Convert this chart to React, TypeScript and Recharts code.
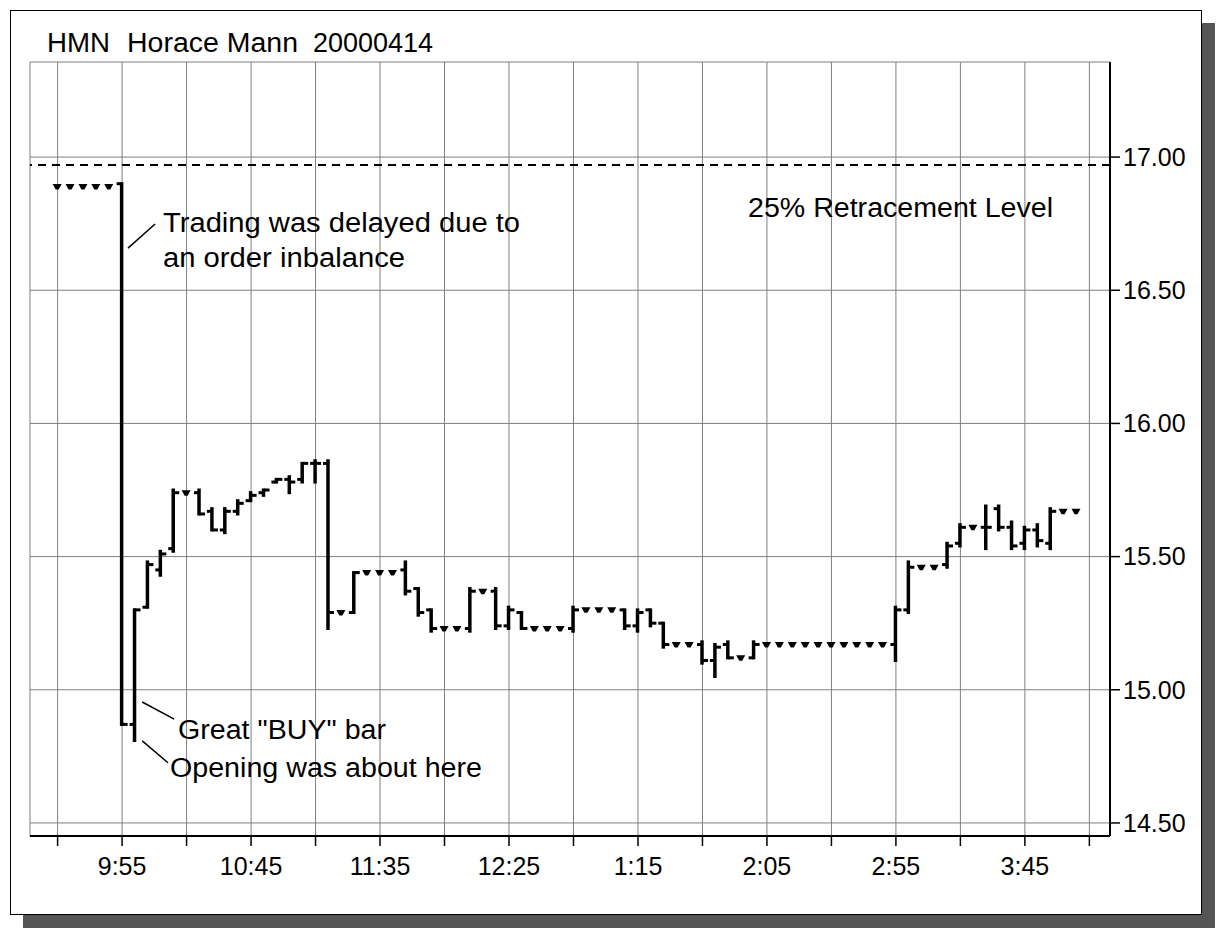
import React from 'react';
import { ComposedChart, Bar, XAxis, YAxis, CartesianGrid, ReferenceLine } from 'recharts';

const barTimes = [
  '9:30','9:35','9:40','9:45','9:50','9:55','10:00','10:05','10:10','10:15',
  '10:20','10:25','10:30','10:35','10:40','10:45','10:50','10:55','11:00','11:05',
  '11:10','11:15','11:20','11:25','11:30','11:35','11:40','11:45','11:50','11:55',
  '12:00','12:05','12:10','12:15','12:20','12:25','12:30','12:35','12:40','12:45',
  '12:50','12:55','1:00','1:05','1:10','1:15','1:20','1:25','1:30','1:35',
  '1:40','1:45','1:50','1:55','2:00','2:05','2:10','2:15','2:20','2:25',
  '2:30','2:35','2:40','2:45','2:50','2:55','3:00','3:05','3:10','3:15',
  '3:20','3:25','3:30','3:35','3:40','3:45','3:50','3:55','4:00','4:05',
];

const opens = [
  16.89,16.89,16.89,16.89,16.89,16.90,14.87,15.31,15.45,15.53,
  15.74,15.74,15.67,15.60,15.67,15.71,15.74,15.78,15.79,15.79,
  15.85,15.85,15.29,15.29,15.44,15.44,15.44,15.45,15.38,15.30,
  15.23,15.23,15.23,15.37,15.37,15.24,15.29,15.23,15.23,15.23,
  15.23,15.30,15.30,15.30,15.30,15.24,15.30,15.25,15.17,15.17,
  15.17,15.11,15.17,15.12,15.12,15.17,15.17,15.17,15.17,15.17,
  15.17,15.17,15.17,15.17,15.17,15.17,15.30,15.46,15.46,15.47,
  15.55,15.61,15.61,15.68,15.61,15.55,15.60,15.55,15.67,15.67,
];
const highs = [
  16.89,16.89,16.89,16.89,16.89,16.90,15.30,15.48,15.52,15.75,
  15.74,15.75,15.68,15.68,15.71,15.74,15.75,15.79,15.80,15.85,
  15.86,15.86,15.29,15.44,15.44,15.44,15.44,15.48,15.38,15.30,
  15.23,15.23,15.38,15.37,15.38,15.31,15.29,15.23,15.23,15.23,
  15.31,15.30,15.30,15.30,15.30,15.30,15.30,15.25,15.17,15.17,
  15.18,15.17,15.18,15.12,15.18,15.17,15.17,15.17,15.17,15.17,
  15.17,15.17,15.17,15.17,15.17,15.31,15.48,15.46,15.46,15.55,
  15.62,15.61,15.69,15.69,15.63,15.61,15.62,15.68,15.67,15.67,
];
const lows = [
  16.89,16.89,16.89,16.89,16.89,14.87,14.81,15.31,15.43,15.52,
  15.74,15.66,15.60,15.59,15.66,15.71,15.73,15.78,15.74,15.78,
  15.78,15.23,15.29,15.29,15.44,15.44,15.44,15.36,15.28,15.22,
  15.23,15.23,15.22,15.37,15.23,15.23,15.23,15.23,15.23,15.23,
  15.22,15.30,15.30,15.30,15.23,15.22,15.24,15.16,15.17,15.17,
  15.10,15.05,15.12,15.12,15.12,15.17,15.17,15.17,15.17,15.17,
  15.17,15.17,15.17,15.17,15.17,15.11,15.29,15.46,15.46,15.46,
  15.54,15.61,15.53,15.60,15.53,15.53,15.54,15.53,15.67,15.67,
];
const closes = [
  16.89,16.89,16.89,16.89,16.89,14.87,15.30,15.47,15.51,15.74,
  15.74,15.66,15.60,15.67,15.70,15.73,15.75,15.79,15.78,15.85,
  15.85,15.29,15.29,15.44,15.44,15.44,15.44,15.37,15.29,15.23,
  15.23,15.23,15.37,15.37,15.24,15.30,15.23,15.23,15.23,15.23,
  15.30,15.30,15.30,15.30,15.24,15.29,15.25,15.17,15.17,15.17,
  15.11,15.16,15.12,15.12,15.17,15.17,15.17,15.17,15.17,15.17,
  15.17,15.17,15.17,15.17,15.17,15.30,15.46,15.46,15.46,15.54,
  15.61,15.61,15.61,15.61,15.54,15.60,15.56,15.67,15.67,15.67,
];

const xTickTimes = ['9:30','9:55','10:20','10:45','11:10','11:35','12:00','12:25','12:50','1:15','1:40','2:05','2:30','2:55','3:20','3:45','4:10'];
const xLabelled = ['9:55','10:45','11:35','12:25','1:15','2:05','2:55','3:45'];
const yTicks = [14.5, 15.0, 15.5, 16.0, 16.5, 17.0];
const retracementLevel = 16.97;

const leaderLines = [
  [{ x: 27.3, y: 16.658 }, { x: 37.8, y: 16.749 }],
  [{ x: 32.8, y: 14.954 }, { x: 45.2, y: 14.89 }],
  [{ x: 32.8, y: 14.808 }, { x: 42.8, y: 14.726 }],
];

const toMinutes = (s: string) => {
  const [hs, ms] = s.split(':');
  let h = parseInt(hs, 10);
  const m = parseInt(ms, 10);
  if (h < 9) h += 12;
  return h * 60 + m - (9 * 60 + 30);
};

const data = barTimes.map((tm, i) => ({
  t: toMinutes(tm),
  open: opens[i],
  high: highs[i],
  low: lows[i],
  close: closes[i],
}));

const xTicks = xTickTimes.map(toMinutes);
const labelSet = new Set(xLabelled.map(toMinutes));

const FONT = '"Liberation Sans", Arial, sans-serif';

const OhlcShape = (props: any) => {
  const { x, y, width, height, payload } = props;
  if (x == null || y == null || !payload) return null;
  const cx = x + (width || 0) / 2;
  const h = height || 0;
  const top = Math.min(y, y + h);
  const bottom = Math.max(y, y + h);
  const span = payload.high - payload.low;
  const toPx = (v: number) => (span > 0 ? top + ((payload.high - v) / span) * (bottom - top) : top);
  if (bottom - top < 2) {
    return (
      <path
        d={`M${cx - 4.5},${top - 2.5} L${cx + 4.5},${top - 2.5} L${cx + 1.5},${top + 3} L${cx - 1.5},${top + 3} Z`}
        fill="#000"
      />
    );
  }
  const yo = toPx(payload.open);
  const yc = toPx(payload.close);
  return (
    <g>
      <line x1={cx} x2={cx} y1={top - 1.5} y2={bottom + 1.5} stroke="#000" strokeWidth={3.5} />
      <line x1={cx - 5} x2={cx} y1={yo} y2={yo} stroke="#000" strokeWidth={3} />
      <line x1={cx} x2={cx + 6} y1={yc} y2={yc} stroke="#000" strokeWidth={3} />
    </g>
  );
};

const texts = [
  { s: 'HMN', x: 47, y: 52, w: 63 },
  { s: 'Horace Mann', x: 127, y: 52, w: 171 },
  { s: '20000414', x: 313, y: 52, w: 120 },
  { s: 'Trading was delayed due to', x: 163, y: 232, w: 357 },
  { s: 'an order inbalance', x: 163, y: 267, w: 242 },
  { s: '25% Retracement Level', x: 748, y: 217, w: 305 },
  { s: 'Great "BUY" bar', x: 178, y: 739, w: 208 },
  { s: 'Opening was about here', x: 170, y: 777, w: 312 },
];

export default function App() {
  return (
    <div style={{ position: 'absolute', left: 0, top: 0, width: 1217, height: 929, background: '#fff', overflow: 'hidden' }}>
      <div
        style={{
          position: 'absolute',
          left: 10,
          top: 10,
          width: 1190,
          height: 903,
          border: '1px solid #000',
          background: '#fff',
          boxShadow: '13px 13px 0 #555',
        }}
      />
      <div style={{ position: 'absolute', left: 0, top: 0 }}>
        <ComposedChart
          width={1217}
          height={929}
          data={data}
          margin={{ top: 62, left: 30, right: 17, bottom: 33 }}
          style={{ fontFamily: FONT }}
        >
          <CartesianGrid stroke="#7f7f7f" strokeWidth={1} />
          <XAxis
            dataKey="t"
            type="number"
            domain={[-10.7, 408]}
            allowDataOverflow
            ticks={xTicks}
            interval={0}
            height={60}
            tickSize={10}
            tickMargin={11}
            axisLine={{ stroke: '#000', strokeWidth: 2 }}
            tickLine={{ stroke: '#000', strokeWidth: 1.5 }}
            tick={{ fill: '#000', fontSize: 25, fontFamily: FONT }}
            tickFormatter={(v: number) => (labelSet.has(v) ? xTickTimes[xTicks.indexOf(v)] : '')}
          />
          <YAxis
            orientation="right"
            type="number"
            domain={[14.451, 17.357]}
            allowDataOverflow
            ticks={yTicks}
            interval={0}
            width={90}
            tickSize={10}
            tickMargin={3}
            axisLine={{ stroke: '#000', strokeWidth: 2 }}
            tickLine={{ stroke: '#000', strokeWidth: 1.5 }}
            tick={{ fill: '#000', fontSize: 25, fontFamily: FONT }}
            tickFormatter={(v: number) => v.toFixed(2)}
          />
          <ReferenceLine y={retracementLevel} stroke="#000" strokeWidth={2} strokeDasharray="8 6" />
          {leaderLines.map((seg, i) => (
            <ReferenceLine key={i} segment={seg} stroke="#000" strokeWidth={1.5} />
          ))}
          <Bar
            dataKey={(d: any) => [d.low, d.high]}
            barSize={10}
            shape={<OhlcShape />}
            isAnimationActive={false}
          />
        </ComposedChart>
      </div>
      <svg width={1217} height={929} style={{ position: 'absolute', left: 0, top: 0, pointerEvents: 'none' }}>
        {texts.map((t, i) => (
          <text
            key={i}
            x={t.x}
            y={t.y}
            textLength={t.w}
            lengthAdjust="spacingAndGlyphs"
            fontFamily={FONT}
            fontSize={27}
            fill="#000"
          >
            {t.s}
          </text>
        ))}
      </svg>
    </div>
  );
}
